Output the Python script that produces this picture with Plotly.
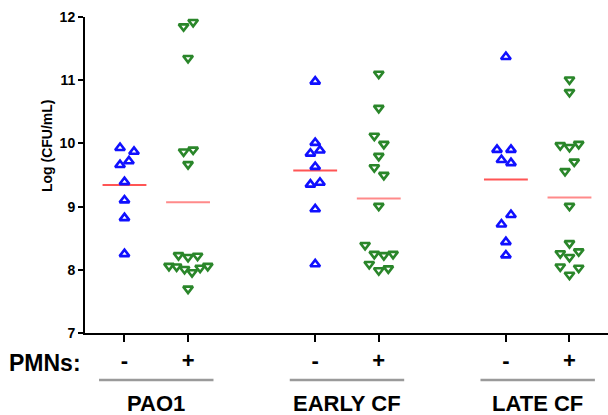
import numpy as np
import plotly.graph_objects as go

# ---- data ----
groups = ["PAO1", "EARLY CF", "LATE CF"]
pmn_labels = ["-", "+"]
group_pos = [[1, 2], [4, 5], [7, 8]]

pao1_minus = [9.93, 9.87, 9.72, 9.66, 9.39, 9.10, 8.82, 8.25]
pao1_minus_jit = [-0.07, 0.15, 0.07, -0.07, 0, 0, 0, 0]
pao1_plus = [11.85, 11.92, 11.35, 9.87, 9.90, 9.67, 8.23, 8.20, 8.22,
             8.06, 8.05, 8.01, 7.96, 8.03, 8.06, 7.70]
pao1_plus_jit = [-0.07, 0.08, 0, -0.07, 0.08, 0, -0.15, 0, 0.15,
                 -0.30, -0.18, -0.055, 0.063, 0.19, 0.31, 0]

early_minus = [10.98, 10.01, 9.89, 9.84, 9.63, 9.38, 9.35, 8.96, 8.09]
early_minus_jit = [0, 0, 0.075, -0.075, 0, 0.075, -0.075, 0, 0]
early_plus = [11.10, 10.56, 10.12, 9.99, 9.80, 9.62, 9.50, 9.01, 8.39,
              8.25, 8.23, 8.25, 8.09, 7.99, 8.02]
early_plus_jit = [0, 0, -0.07, 0.08, 0, -0.07, 0.08, 0, -0.215,
                  -0.07, 0.08, 0.225, -0.15, 0, 0.15]

late_minus = [11.37, 9.90, 9.90, 9.74, 9.69, 8.87, 8.72, 8.44, 8.23]
late_minus_jit = [0, -0.14, 0.08, -0.07, 0.08, 0.08, -0.07, 0, 0]
late_plus = [11.01, 10.81, 9.97, 9.94, 9.99, 9.71, 9.56, 9.01, 8.42,
             8.26, 8.29, 8.20, 8.05, 8.03, 7.92]
late_plus_jit = [0, 0, -0.145, 0, 0.145, 0.075, -0.07, 0, 0,
                 -0.145, 0.145, 0, -0.145, 0.145, 0]

y_ticks = [7, 8, 9, 10, 11, 12]

# ---- figure ----
series = [
    (group_pos[0][0], pao1_minus, pao1_minus_jit, "minus"),
    (group_pos[0][1], pao1_plus, pao1_plus_jit, "plus"),
    (group_pos[1][0], early_minus, early_minus_jit, "minus"),
    (group_pos[1][1], early_plus, early_plus_jit, "plus"),
    (group_pos[2][0], late_minus, late_minus_jit, "minus"),
    (group_pos[2][1], late_plus, late_plus_jit, "plus"),
]

BLUE = "#1010ff"
GREEN = "#2a862a"
fig = go.Figure()
for pos, vals, jit, kind in series:
    xs = [pos + j for j in jit]
    if kind == "minus":
        marker = dict(symbol="triangle-up-open", size=8.5, color=BLUE,
                      line=dict(width=2.6, color=BLUE))
        mcol = "#ff5555"
    else:
        marker = dict(symbol="triangle-down-open", size=8.5, color=GREEN,
                      line=dict(width=2.6, color=GREEN))
        mcol = "#ff8a8a"
    m = float(np.mean(vals))
    fig.add_trace(go.Scatter(x=[pos - 0.345, pos + 0.345], y=[m, m], mode="lines",
                             line=dict(color=mcol, width=2), hoverinfo="skip",
                             showlegend=False))
    fig.add_trace(go.Scatter(x=xs, y=vals, mode="markers", marker=marker,
                             showlegend=False))

font_fam = "Liberation Sans, Arial, sans-serif"
tickvals = [p for g in group_pos for p in g]
ticktext = pmn_labels * len(groups)

fig.update_layout(
    width=608, height=415,
    margin=dict(l=85, r=0, t=17, b=82),
    paper_bgcolor="white", plot_bgcolor="white",
    font=dict(family=font_fam, color="black"),
    xaxis=dict(range=[0.379, 8.606], showgrid=False, zeroline=False,
               showline=True, linecolor="black", linewidth=2,
               ticks="outside", ticklen=7, tickwidth=1.5, tickcolor="black",
               tickvals=tickvals, ticktext=ticktext,
               tickfont=dict(size=22, weight="bold", family=font_fam)),
    yaxis=dict(range=[7, 12], showgrid=False, zeroline=False,
               showline=True, linecolor="black", linewidth=2,
               ticks="outside", ticklen=5, tickwidth=1.5, tickcolor="black",
               tickvals=y_ticks, tickfont=dict(size=14, weight="bold", family=font_fam)),
)

def px_x(px):
    return (px - 85) / 523.0

def px_y(py):
    return (333 - py) / 316.0

annots = [
    dict(text="Log (CFU/mL)", textangle=-90, xref="paper", yref="paper",
         x=px_x(47), y=px_y(145), xanchor="center", yanchor="middle",
         showarrow=False, font=dict(size=14, weight="bold", family=font_fam)),
    dict(text="PMNs:", xref="paper", yref="paper", x=px_x(7), y=px_y(363),
         xanchor="left", yanchor="middle", showarrow=False,
         font=dict(size=23, weight="bold", family=font_fam)),
]
for g, pos in zip(groups, group_pos):
    c = (pos[0] + pos[1]) / 2.0
    annots.append(dict(text=g, xref="x", yref="paper", x=c, y=px_y(403),
                       xanchor="center", yanchor="middle", showarrow=False,
                       font=dict(size=22, weight="bold", family=font_fam)))
    fig.add_shape(type="line", xref="x", yref="paper", x0=c - 0.9, x1=c + 0.9,
                  y0=px_y(380), y1=px_y(380), line=dict(color="#9a9a9a", width=2.5))
fig.update_layout(annotations=annots)

fig.write_html("out.html", config={"displayModeBar": False},
               post_script="document.body.style.margin='0';document.body.style.overflow='hidden';")
